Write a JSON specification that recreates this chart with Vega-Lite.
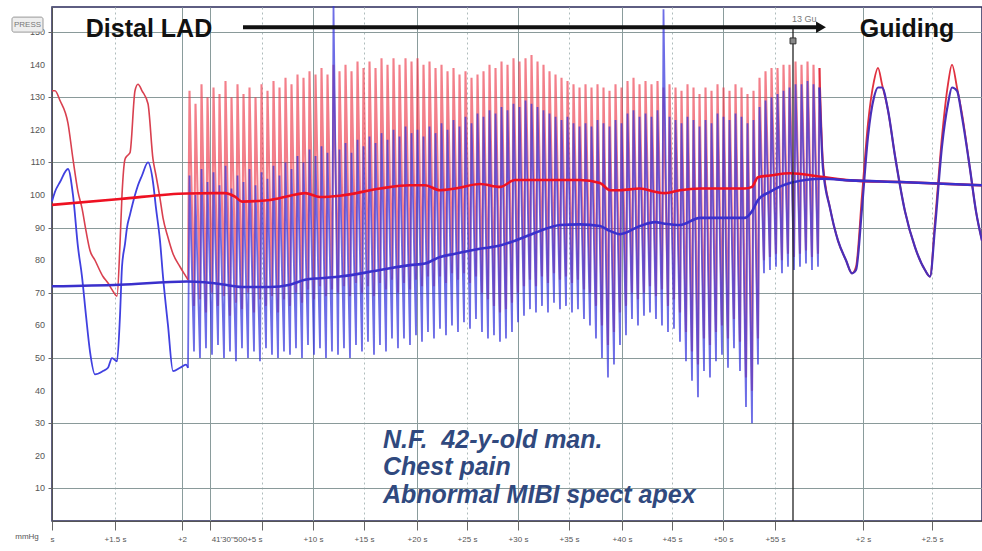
{
"$schema":"https://vega.github.io/schema/vega-lite/v6.json",
"width":930,"height":514,
"autosize":{"type":"none"},
"padding":{"left":52,"top":7,"right":0,"bottom":30},
"background":"white",
"config":{"view":{"stroke":"#2a2a5a","strokeWidth":1.5},"font":"Liberation Sans"},
"datasets":{
"one":[{}],
"ylab":[{"v":10},{"v":20},{"v":30},{"v":40},{"v":50},{"v":60},{"v":70},{"v":80},{"v":90},{"v":100},{"v":110},{"v":120},{"v":130},{"v":140},{"v":150}],
"pre":[{"x":52,"r":132,"b":98},{"x":55,"r":132,"b":101},{"x":60,"r":129,"b":104},{"x":68,"r":122,"b":108},{"x":73,"r":111,"b":100},{"x":78,"r":101,"b":84},{"x":82,"r":96,"b":75},{"x":86,"r":89,"b":63},{"x":90,"r":83,"b":52},{"x":95,"r":80,"b":45},{"x":103,"r":75,"b":46},{"x":108,"r":73,"b":47},{"x":112,"r":71,"b":50},{"x":117,"r":69,"b":49},{"x":120,"r":85,"b":63},{"x":122,"r":100,"b":78},{"x":125,"r":111,"b":85},{"x":127,"r":112,"b":90},{"x":130,"r":113,"b":94},{"x":135,"r":132,"b":100},{"x":138,"r":134,"b":103},{"x":142,"r":132,"b":106},{"x":148,"r":128,"b":110},{"x":153,"r":111,"b":104},{"x":156,"r":106,"b":96},{"x":160,"r":99,"b":86},{"x":163,"r":93,"b":75},{"x":168,"r":87,"b":60},{"x":173,"r":82,"b":46},{"x":180,"r":78,"b":47},{"x":186,"r":75,"b":48},{"x":188,"r":74,"b":47}],
"pull":[
{"x":188,"r":74,"b":47},{"x":189.5,"r":132,"b":106},
{"x":194,"r":66,"b":52},{"x":195.5,"r":128,"b":100},
{"x":200,"r":68,"b":50},{"x":201.5,"r":134,"b":108},
{"x":206,"r":64,"b":53},{"x":207.5,"r":130,"b":104},
{"x":212,"r":70,"b":51},{"x":213.5,"r":133,"b":107},
{"x":218,"r":66,"b":54},{"x":219.5,"r":131,"b":103},
{"x":224,"r":69,"b":50},{"x":225.5,"r":135,"b":109},
{"x":230,"r":63,"b":52},{"x":231.5,"r":130,"b":102},
{"x":236,"r":67,"b":49},{"x":237.5,"r":134,"b":106},
{"x":242,"r":65,"b":53},{"x":243.5,"r":131,"b":104},
{"x":248,"r":70,"b":50},{"x":249.5,"r":133,"b":108},
{"x":254,"r":64,"b":52},{"x":255.5,"r":130,"b":103},
{"x":260,"r":68,"b":49},{"x":261.5,"r":134,"b":107},
{"x":266,"r":66,"b":53},{"x":267.5,"r":132,"b":105},
{"x":272,"r":69,"b":51},{"x":273.5,"r":135,"b":109},
{"x":278,"r":64,"b":50},{"x":279.5,"r":133,"b":106},
{"x":284,"r":68,"b":52},{"x":285.5,"r":136,"b":110},
{"x":290,"r":66,"b":51},{"x":291.5,"r":134,"b":108},
{"x":296,"r":70,"b":53},{"x":297.5,"r":137,"b":112},
{"x":302,"r":67,"b":50},{"x":303.5,"r":136,"b":110},
{"x":308,"r":71,"b":54},{"x":309.5,"r":138,"b":114},
{"x":314,"r":68,"b":51},{"x":315.5,"r":137,"b":112},
{"x":320,"r":72,"b":53},{"x":321.5,"r":139,"b":115},
{"x":326,"r":69,"b":50},{"x":327.5,"r":137,"b":113},
{"x":332,"r":71,"b":52},{"x":333.5,"r":140,"b":158},
{"x":338,"r":70,"b":51},{"x":339.5,"r":138,"b":114},
{"x":344,"r":72,"b":53},{"x":345.5,"r":140,"b":116},
{"x":350,"r":69,"b":50},{"x":351.5,"r":138,"b":113},
{"x":356,"r":73,"b":54},{"x":357.5,"r":141,"b":117},
{"x":362,"r":70,"b":52},{"x":363.5,"r":139,"b":115},
{"x":368,"r":72,"b":55},{"x":369.5,"r":141,"b":118},
{"x":374,"r":69,"b":51},{"x":375.5,"r":139,"b":116},
{"x":380,"r":73,"b":54},{"x":381.5,"r":142,"b":119},
{"x":386,"r":71,"b":52},{"x":387.5,"r":140,"b":117},
{"x":392,"r":74,"b":56},{"x":393.5,"r":142,"b":120},
{"x":398,"r":70,"b":53},{"x":399.5,"r":140,"b":118},
{"x":404,"r":73,"b":56},{"x":405.5,"r":142,"b":121},
{"x":410,"r":71,"b":54},{"x":411.5,"r":141,"b":119},
{"x":416,"r":74,"b":57},{"x":417.5,"r":142,"b":120},
{"x":422,"r":72,"b":55},{"x":423.5,"r":140,"b":118},
{"x":428,"r":75,"b":58},{"x":429.5,"r":141,"b":121},
{"x":434,"r":72,"b":56},{"x":435.5,"r":139,"b":119},
{"x":440,"r":75,"b":59},{"x":441.5,"r":140,"b":122},
{"x":446,"r":73,"b":57},{"x":447.5,"r":138,"b":120},
{"x":452,"r":76,"b":60},{"x":453.5,"r":139,"b":123},
{"x":458,"r":74,"b":58},{"x":459.5,"r":137,"b":121},
{"x":464,"r":76,"b":61},{"x":465.5,"r":138,"b":124},
{"x":470,"r":73,"b":59},{"x":471.5,"r":136,"b":122},
{"x":476,"r":75,"b":62},{"x":477.5,"r":137,"b":125},
{"x":482,"r":70,"b":58},{"x":483.5,"r":138,"b":124},
{"x":488,"r":68,"b":56},{"x":489.5,"r":140,"b":126},
{"x":494,"r":66,"b":57},{"x":495.5,"r":139,"b":125},
{"x":500,"r":64,"b":55},{"x":501.5,"r":141,"b":127},
{"x":506,"r":65,"b":56},{"x":507.5,"r":140,"b":126},
{"x":512,"r":67,"b":58},{"x":513.5,"r":142,"b":128},
{"x":518,"r":70,"b":61},{"x":519.5,"r":141,"b":127},
{"x":524,"r":72,"b":63},{"x":525.5,"r":142,"b":129},
{"x":530,"r":74,"b":65},{"x":531.5,"r":143,"b":128},
{"x":536,"r":72,"b":64},{"x":537.5,"r":141,"b":127},
{"x":542,"r":75,"b":66},{"x":543.5,"r":140,"b":126},
{"x":548,"r":73,"b":64},{"x":549.5,"r":138,"b":125},
{"x":554,"r":76,"b":67},{"x":555.5,"r":137,"b":124},
{"x":560,"r":74,"b":65},{"x":561.5,"r":136,"b":123},
{"x":566,"r":75,"b":66},{"x":567.5,"r":135,"b":124},
{"x":572,"r":73,"b":64},{"x":573.5,"r":134,"b":122},
{"x":578,"r":74,"b":65},{"x":579.5,"r":133,"b":121},
{"x":584,"r":71,"b":62},{"x":585.5,"r":134,"b":122},
{"x":590,"r":70,"b":60},{"x":591.5,"r":133,"b":121},
{"x":596,"r":66,"b":56},{"x":597.5,"r":134,"b":123},
{"x":602,"r":60,"b":50},{"x":603.5,"r":133,"b":122},
{"x":608,"r":54,"b":44},{"x":609.5,"r":132,"b":121},
{"x":614,"r":58,"b":48},{"x":615.5,"r":134,"b":123},
{"x":620,"r":64,"b":54},{"x":621.5,"r":133,"b":122},
{"x":626,"r":66,"b":57},{"x":627.5,"r":135,"b":125},
{"x":632,"r":70,"b":62},{"x":633.5,"r":136,"b":126},
{"x":638,"r":68,"b":60},{"x":639.5,"r":134,"b":124},
{"x":644,"r":70,"b":63},{"x":645.5,"r":135,"b":125},
{"x":650,"r":72,"b":64},{"x":651.5,"r":134,"b":124},
{"x":656,"r":69,"b":62},{"x":657.5,"r":135,"b":126},
{"x":662,"r":71,"b":60},{"x":663.5,"r":133,"b":157},
{"x":668,"r":66,"b":58},{"x":669.5,"r":134,"b":124},
{"x":674,"r":68,"b":59},{"x":675.5,"r":133,"b":123},
{"x":680,"r":64,"b":55},{"x":681.5,"r":132,"b":122},
{"x":686,"r":58,"b":49},{"x":687.5,"r":134,"b":124},
{"x":692,"r":52,"b":43},{"x":693.5,"r":133,"b":123},
{"x":698,"r":48,"b":38},{"x":699.5,"r":131,"b":121},
{"x":704,"r":56,"b":46},{"x":705.5,"r":133,"b":123},
{"x":710,"r":54,"b":44},{"x":711.5,"r":132,"b":122},
{"x":716,"r":58,"b":49},{"x":717.5,"r":134,"b":125},
{"x":722,"r":60,"b":51},{"x":723.5,"r":133,"b":124},
{"x":728,"r":56,"b":47},{"x":729.5,"r":132,"b":123},
{"x":734,"r":62,"b":53},{"x":735.5,"r":134,"b":125},
{"x":740,"r":55,"b":46},{"x":741.5,"r":133,"b":124},
{"x":746,"r":44,"b":35},{"x":747.5,"r":131,"b":122},
{"x":752,"r":40,"b":30},{"x":753.5,"r":132,"b":123},
{"x":758,"r":56,"b":48},{"x":759.5,"r":136,"b":127},
{"x":764,"r":80,"b":76},{"x":765.5,"r":138,"b":129},
{"x":770,"r":81,"b":77},{"x":771.5,"r":139,"b":130},
{"x":776,"r":82,"b":78},{"x":777.5,"r":139,"b":131},
{"x":782,"r":80,"b":76},{"x":783.5,"r":140,"b":132},
{"x":788,"r":82,"b":78},{"x":789.5,"r":140,"b":133},
{"x":794,"r":81,"b":77},{"x":795.5,"r":141,"b":134},
{"x":800,"r":82,"b":78},{"x":801.5,"r":140,"b":134},
{"x":806,"r":83,"b":79},{"x":807.5,"r":141,"b":135},
{"x":812,"r":81,"b":77},{"x":813.5,"r":140,"b":134},
{"x":818,"r":82,"b":78},{"x":819.5,"r":139,"b":133}],
"post":[{"x":819.5,"r":139,"b":133},{"x":823,"r":110,"b":108},{"x":830,"r":96,"b":96},{"x":838,"r":86,"b":86},{"x":846,"r":80,"b":80},{"x":852,"r":76,"b":76},{"x":856,"r":78,"b":77},{"x":862,"r":100,"b":96},{"x":868,"r":122,"b":118},{"x":874,"r":135,"b":130},{"x":878,"r":139,"b":133},{"x":882,"r":134,"b":133},{"x":888,"r":126,"b":126},{"x":895,"r":112,"b":112},{"x":905,"r":95,"b":95},{"x":915,"r":84,"b":84},{"x":925,"r":77,"b":77},{"x":930,"r":75,"b":75},{"x":935,"r":92,"b":90},{"x":942,"r":118,"b":115},{"x":948,"r":134,"b":128},{"x":952,"r":140,"b":133},{"x":957,"r":133,"b":132},{"x":962,"r":125,"b":124},{"x":970,"r":108,"b":108},{"x":976,"r":95,"b":95},{"x":982,"r":86,"b":86}],
"mean":[{"x":52,"rm":97,"bm":72},{"x":120,"rm":98.8,"bm":72.5},{"x":187,"rm":100.5,"bm":73.5},{"x":225,"rm":100.6,"bm":72.5},{"x":235,"rm":99.5,"bm":72},{"x":242,"rm":98,"bm":71.8},{"x":270,"rm":98.5,"bm":71.8},{"x":290,"rm":99.8,"bm":72.5},{"x":305,"rm":100.6,"bm":74},{"x":320,"rm":99.4,"bm":74.5},{"x":340,"rm":99.8,"bm":75},{"x":380,"rm":102,"bm":77},{"x":410,"rm":103,"bm":78.5},{"x":425,"rm":103,"bm":79},{"x":440,"rm":101.5,"bm":81},{"x":455,"rm":102,"bm":82},{"x":480,"rm":103.4,"bm":83.5},{"x":500,"rm":102.5,"bm":84.5},{"x":515,"rm":104.6,"bm":86},{"x":540,"rm":104.6,"bm":89},{"x":560,"rm":104.6,"bm":90.8},{"x":580,"rm":104.6,"bm":91},{"x":600,"rm":103.7,"bm":90.5},{"x":610,"rm":101.5,"bm":89},{"x":620,"rm":101.5,"bm":88},{"x":640,"rm":102,"bm":90.5},{"x":655,"rm":101,"bm":91.7},{"x":665,"rm":100.6,"bm":91.2},{"x":680,"rm":101.5,"bm":90.8},{"x":700,"rm":102,"bm":93},{"x":745,"rm":102,"bm":93},{"x":752,"rm":102.5,"bm":95},{"x":758,"rm":105.5,"bm":98.5},{"x":770,"rm":106,"bm":101},{"x":790,"rm":106.7,"bm":103.7},{"x":823,"rm":105.5,"bm":105},{"x":850,"rm":104.5,"bm":104.5},{"x":900,"rm":104,"bm":104},{"x":982,"rm":103,"bm":103}]
},
"layer":[
{"data":{"name":"pull"},"mark":{"type":"line","color":"#ec3a4c","strokeWidth":2.1,"opacity":0.65},
 "encoding":{
  "x":{"field":"x","type":"quantitative","scale":{"domain":[52,982],"nice":false,"zero":false},
   "axis":{"title":null,"values":[52,115,182,210,262,313,364,417,467,518,569,622,672,723,775,863,932],
    "labelExpr":"datum.value==52?'s':datum.value==115?'+1.5 s':datum.value==182?'+2':datum.value==262?'41\\'30\"500+5 s':datum.value==313?'+10 s':datum.value==364?'+15 s':datum.value==417?'+20 s':datum.value==467?'+25 s':datum.value==518?'+30 s':datum.value==569?'+35 s':datum.value==622?'+40 s':datum.value==672?'+45 s':datum.value==723?'+50 s':datum.value==775?'+55 s':datum.value==863?'+2 s':datum.value==932?'+2.5 s':''",
    "labelAlign":{"condition":{"test":"datum.value==262","value":"right"},"value":"center"},
    "labelFontSize":8,"labelColor":"#555","labelPadding":5,"tickSize":9,"tickColor":"#666","domainColor":"#555","labelFlush":false,"labelOverlap":false,
    "grid":true,"gridColor":{"condition":{"test":"indexof([115,262,364,467,569,672,775,932],datum.value)>=0","value":"#aebcbc"},"value":"#8a9c9c"},
    "gridDash":{"condition":{"test":"indexof([115,262,364,467,569,672,775,932],datum.value)>=0","value":[2,3]},"value":[]}}},
  "y":{"field":"r","type":"quantitative","scale":{"domain":[0,157.7],"nice":false,"zero":false},
   "axis":{"title":null,"values":[10,20,30,40,50,60,70,80,90,100,110,120,130,140,150],"labels":false,"tickSize":4,"tickColor":"#666","domainColor":"#555",
    "grid":true,"gridColor":{"condition":{"test":"datum.value % 20 == 0","value":"#aebcbc"},"value":"#8a9a9a"},
    "gridDash":{"condition":{"test":"datum.value % 20 == 0","value":[2,2]},"value":[]}}}}},
{"data":{"name":"pull"},"mark":{"type":"line","color":"#3434dc","strokeWidth":1.8,"opacity":0.72},
 "encoding":{"x":{"field":"x","type":"quantitative","title":null},"y":{"field":"b","type":"quantitative","title":null}}},
{"data":{"name":"pre"},"mark":{"type":"line","color":"#d9404f","strokeWidth":1.6,"interpolate":"monotone"},
 "encoding":{"x":{"field":"x","type":"quantitative","title":null},"y":{"field":"r","type":"quantitative","title":null}}},
{"data":{"name":"pre"},"mark":{"type":"line","color":"#4040e0","strokeWidth":1.8,"interpolate":"monotone"},
 "encoding":{"x":{"field":"x","type":"quantitative","title":null},"y":{"field":"b","type":"quantitative","title":null}}},
{"data":{"name":"post"},"mark":{"type":"line","color":"#e0303f","strokeWidth":1.8,"interpolate":"monotone"},
 "encoding":{"x":{"field":"x","type":"quantitative","title":null},"y":{"field":"r","type":"quantitative","title":null}}},
{"data":{"name":"post"},"mark":{"type":"line","color":"#4a2fb8","strokeWidth":2.2,"interpolate":"monotone"},
 "encoding":{"x":{"field":"x","type":"quantitative","title":null},"y":{"field":"b","type":"quantitative","title":null}}},
{"data":{"name":"mean"},"mark":{"type":"line","color":"#ee1122","strokeWidth":2.6,"interpolate":"monotone"},
 "encoding":{"x":{"field":"x","type":"quantitative","title":null},"y":{"field":"rm","type":"quantitative","title":null}}},
{"data":{"name":"mean"},"mark":{"type":"line","color":"#3a30cc","strokeWidth":2.6,"interpolate":"monotone"},
 "encoding":{"x":{"field":"x","type":"quantitative","title":null},"y":{"field":"bm","type":"quantitative","title":null}}},
{"data":{"name":"ylab"},"mark":{"type":"text","fontSize":9,"color":"#555","align":"right","baseline":"middle"},
 "encoding":{"x":{"datum":45,"type":"quantitative","title":null},"y":{"field":"v","type":"quantitative","title":null},"text":{"field":"v","type":"quantitative"}}},
{"data":{"name":"one"},"mark":{"type":"rule","color":"#222","strokeWidth":1.3},
 "encoding":{"x":{"datum":793,"type":"quantitative","title":null},"y":{"datum":0,"type":"quantitative","title":null},"y2":{"datum":151.5}}},
{"data":{"name":"one"},"mark":{"type":"rule","color":"#111","strokeWidth":4},
 "encoding":{"x":{"datum":243,"type":"quantitative","title":null},"x2":{"datum":818},"y":{"datum":151.5,"type":"quantitative","title":null}}},
{"data":{"name":"one"},"mark":{"type":"point","shape":"triangle-right","filled":true,"color":"#111","size":130,"opacity":1},
 "encoding":{"x":{"datum":821,"type":"quantitative","title":null},"y":{"datum":151.5,"type":"quantitative","title":null}}},
{"data":{"name":"one"},"mark":{"type":"point","shape":"square","filled":true,"color":"#888","stroke":"#333","strokeWidth":1,"size":35,"opacity":1},
 "encoding":{"x":{"datum":793,"type":"quantitative","title":null},"y":{"datum":147.3,"type":"quantitative","title":null}}},
{"data":{"name":"one"},"mark":{"type":"text","text":"13 Gu","fontSize":9,"color":"#777","align":"left","baseline":"alphabetic"},
 "encoding":{"x":{"datum":792,"type":"quantitative","title":null},"y":{"datum":153,"type":"quantitative","title":null}}},
{"data":{"name":"one"},"mark":{"type":"text","text":"Distal LAD","fontSize":25,"fontWeight":"bold","color":"#111","align":"center","baseline":"alphabetic"},
 "encoding":{"x":{"datum":149,"type":"quantitative","title":null},"y":{"datum":148.5,"type":"quantitative","title":null}}},
{"data":{"name":"one"},"mark":{"type":"text","text":"Guiding","fontSize":25,"fontWeight":"bold","color":"#111","align":"center","baseline":"alphabetic"},
 "encoding":{"x":{"datum":907,"type":"quantitative","title":null},"y":{"datum":148.5,"type":"quantitative","title":null}}},
{"data":{"name":"one"},"mark":{"type":"text","text":"N.F.\u00a0 42-y-old man.","fontSize":25,"fontWeight":"bold","fontStyle":"italic","color":"#30497e","align":"left","baseline":"alphabetic"},
 "encoding":{"x":{"datum":383,"type":"quantitative","title":null},"y":{"datum":22.4,"type":"quantitative","title":null}}},
{"data":{"name":"one"},"mark":{"type":"text","text":"Chest pain","fontSize":25,"fontWeight":"bold","fontStyle":"italic","color":"#30497e","align":"left","baseline":"alphabetic"},
 "encoding":{"x":{"datum":383,"type":"quantitative","title":null},"y":{"datum":14.1,"type":"quantitative","title":null}}},
{"data":{"name":"one"},"mark":{"type":"text","text":"Abnormal MIBI spect apex","fontSize":25,"fontWeight":"bold","fontStyle":"italic","color":"#30497e","align":"left","baseline":"alphabetic"},
 "encoding":{"x":{"datum":383,"type":"quantitative","title":null},"y":{"datum":5.5,"type":"quantitative","title":null}}},
{"data":{"name":"one"},"mark":{"type":"rect","fill":"#eeeeee","stroke":"#999","strokeWidth":1,"cornerRadius":2},
 "encoding":{"x":{"datum":12,"type":"quantitative","title":null},"x2":{"datum":43},"y":{"datum":150,"type":"quantitative","title":null},"y2":{"datum":154.6}}},
{"data":{"name":"one"},"mark":{"type":"text","text":"PRESS","fontSize":8,"color":"#777","align":"center","baseline":"middle"},
 "encoding":{"x":{"datum":27.5,"type":"quantitative","title":null},"y":{"datum":152.3,"type":"quantitative","title":null}}},
{"data":{"name":"one"},"mark":{"type":"text","text":"mmHg","fontSize":8,"color":"#555","align":"center","baseline":"middle"},
 "encoding":{"x":{"datum":27,"type":"quantitative","title":null},"y":{"datum":-4.9,"type":"quantitative","title":null}}}
]
}
